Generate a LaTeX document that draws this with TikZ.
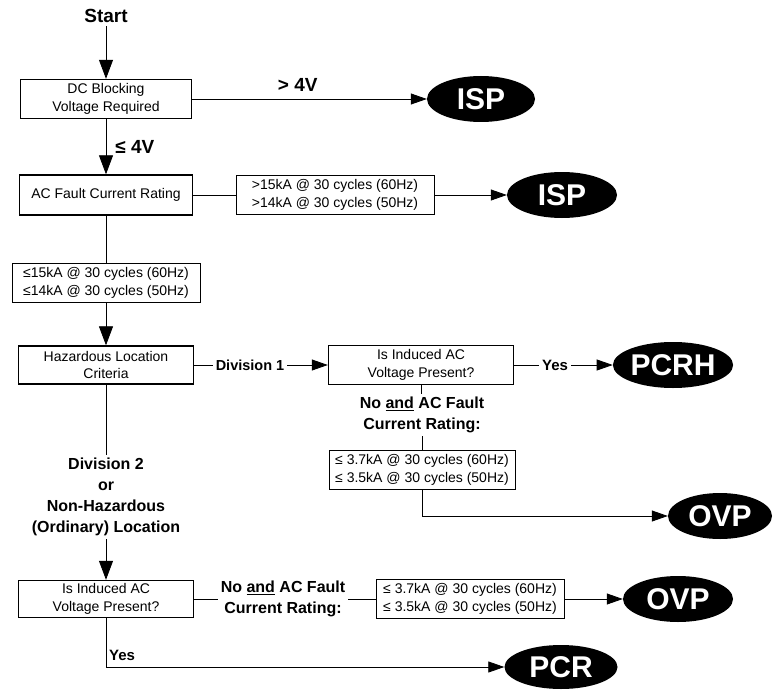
\documentclass[tikz,border=0pt]{standalone}
\usepackage{fontspec}
\setmainfont{Liberation Sans}
\usetikzlibrary{shapes.geometric, arrows.meta, positioning}

\begin{document}
\begin{tikzpicture}[x=1pt, y=-1pt,
    question/.style={rectangle, draw=black, line width=1.4pt, align=center, inner sep=0pt, minimum height=39pt, font=\fontsize{14}{17.5}\selectfont},
    rating/.style={rectangle, draw=black, line width=0.8pt, align=center, inner sep=0pt, minimum width=188pt, minimum height=39pt, font=\fontsize{14}{17.5}\selectfont},
    outcome/.style={ellipse, fill=black, text=white, inner sep=0pt, minimum height=46pt, minimum width=108pt, font=\fontsize{30}{30}\selectfont\bfseries},
    answer/.style={align=center, inner sep=3pt, font=\fontsize{16}{21}\selectfont\bfseries},
    every edge/.style={draw, line width=0.8pt},
    flow/.style={-{Triangle[length=16pt,width=11pt]}},
    down/.style={-{Triangle[length=19pt,width=14pt]}}
    ]
    \useasboundingbox (0,0) rectangle (776,690);

    % left column
    \node[font=\fontsize{19}{20}\selectfont\bfseries] (start) at (106,16) {Start};
    \node[question, minimum width=171pt] (dc) at (106,99) {DC Blocking\\Voltage Required};
    \node[question, minimum width=173pt, minimum height=40pt] (ac) at (106,195) {AC Fault Current Rating};
    \node[rating] (low) at (106,283) {≤15kA @ 30 cycles (60Hz)\\≤14kA @ 30 cycles (50Hz)};
    \node[question, minimum width=175pt, minimum height=38pt] (haz) at (106,365) {Hazardous Location\\Criteria};
    \node[answer] (div2) at (106,497) {Division 2\\or\\Non-Hazardous\\(Ordinary) Location};
    \node[question, minimum width=175pt, minimum height=37pt] (ind2) at (106,599) {Is Induced AC\\Voltage Present?};

    % right side
    \node[outcome] (isp1) at (481,99) {ISP};
    \node[rating, minimum width=198pt] (high) at (335,195) {>15kA @ 30 cycles (60Hz)\\>14kA @ 30 cycles (50Hz)};
    \node[outcome, minimum width=110pt] (isp2) at (562,195) {ISP};
    \node[answer, font=\fontsize{14.5}{16}\selectfont\bfseries] (div1) at (250,365) {Division 1};
    \node[question, minimum width=185pt] (ind1) at (421,365) {Is Induced AC\\Voltage Present?};
    \node[answer, font=\fontsize{15}{16}\selectfont\bfseries] (yes1) at (555,365) {Yes};
    \node[outcome, minimum width=119pt] (pcrh) at (673,365) {PCRH};
    \node[answer] (no1) at (422,415) {No \underline{and} AC Fault\\Current Rating:};
    \node[rating, minimum width=186pt] (lim1) at (422,470) {≤ 3.7kA @ 30 cycles (60Hz)\\≤ 3.5kA @ 30 cycles (50Hz)};
    \node[outcome, minimum width=104pt] (ovp1) at (720,516) {OVP};
    \coordinate (turn1) at (422,516);
    \node[answer] (no2) at (283,599) {No \underline{and} AC Fault\\Current Rating:};
    \node[rating] (lim2) at (470,599) {≤ 3.7kA @ 30 cycles (60Hz)\\≤ 3.5kA @ 30 cycles (50Hz)};
    \node[outcome, minimum width=110pt] (ovp2) at (678,599) {OVP};
    \node[outcome, minimum width=113pt, minimum height=44pt] (pcr) at (561,667) {PCR};
    \coordinate (turn2) at (106,667);
    \node[answer, font=\fontsize{15}{16}\selectfont\bfseries, anchor=south west] (yes2) at (106,664) {Yes};

    % connectors
    \path[down] (start) edge (dc)
    (dc) edge node[right=6pt, answer, font=\fontsize{19}{20}\selectfont\bfseries] {≤ 4V} (ac)
    (low) edge (haz)
    (div2) edge (ind2);
    \path (ac) edge (low)
    (haz) edge (div2)
    (ac) edge (high)
    (haz) edge (div1)
    (ind1) edge (yes1)
    (ind1) edge (no1)
    (no1) edge (lim1)
    (ind2) edge (no2)
    (no2) edge (lim2)
    (lim1) edge (turn1)
    (ind2) edge (turn2);
    \path[flow] (dc) edge node[pos=0.45, above=4pt, answer, font=\fontsize{19}{20}\selectfont\bfseries] {> 4V} (isp1)
    (high) edge (isp2)
    (div1) edge (ind1)
    (yes1) edge (pcrh)
    (turn1) edge (ovp1)
    (lim2) edge (ovp2)
    (turn2) edge (pcr);
\end{tikzpicture}
\end{document}
